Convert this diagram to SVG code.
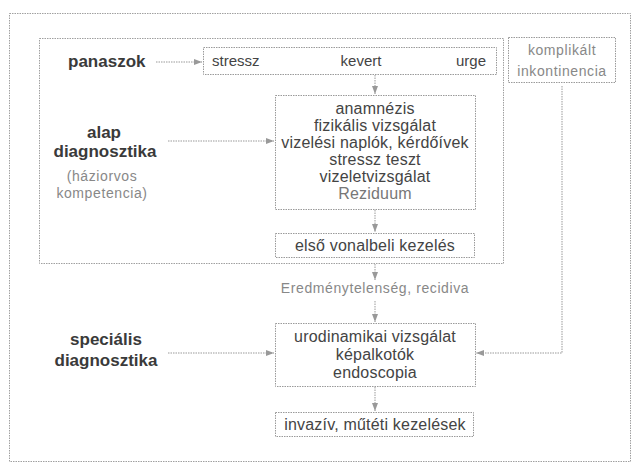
<svg xmlns="http://www.w3.org/2000/svg" width="632" height="464" viewBox="0 0 632 464">
<defs>
<style>
text{font-family:"Liberation Sans",Arial,sans-serif;fill:#444}
.b{font-weight:bold;font-size:17px;fill:#3a3a3a}
.n{font-size:16px;letter-spacing:0.2px}
.s{font-size:15px}
.l{font-size:14px;fill:#888;letter-spacing:0.6px}
.box{fill:#fff;stroke:#9a9a9a;stroke-width:1;stroke-dasharray:1.5 1}
.frame{fill:none;stroke:#a0a0a0;stroke-width:1;stroke-dasharray:1.5 1}
.c{fill:none;stroke:#999;stroke-width:1;stroke-dasharray:1.5 1}
</style>
<marker id="ah" viewBox="0 0 8 6" refX="8" refY="3" markerWidth="8" markerHeight="6" markerUnits="userSpaceOnUse" orient="auto">
<path d="M0,0 L8,3 L0,6 Z" fill="#999"/>
</marker>
</defs>
<rect width="632" height="464" fill="#fff"/>
<rect class="frame" x="9.5" y="13.5" width="621" height="448"/>
<rect id="alap-group" class="frame" x="39.5" y="38.5" width="464" height="225"/>

<g id="connectors">
<path class="c" d="M156,62 H202" marker-end="url(#ah)"/>
<path class="c" d="M375,75 V94" marker-end="url(#ah)"/>
<path class="c" d="M168,141 H274" marker-end="url(#ah)"/>
<path class="c" d="M375,210 V232" marker-end="url(#ah)"/>
<path class="c" d="M375,264 V280" marker-end="url(#ah)"/>
<path class="c" d="M375,301 V322" marker-end="url(#ah)"/>
<path class="c" d="M168,353 H274" marker-end="url(#ah)"/>
<path class="c" d="M562,86 V353 H476" marker-end="url(#ah)"/>
<path class="c" d="M375,387 V411" marker-end="url(#ah)"/>
</g>

<g id="panaszok">
<text class="b" x="68" y="67">panaszok</text>
</g>
<g id="tipusok">
<rect class="box" x="203.5" y="47.5" width="293" height="27"/>
<text class="s" x="212" y="66">stressz</text>
<text class="s" x="361" y="66" text-anchor="middle">kevert</text>
<text class="s" x="486" y="66" text-anchor="end">urge</text>
</g>
<g id="komplikalt">
<rect class="box" x="508.5" y="37.5" width="107" height="45"/>
<text class="l" x="562" y="55" text-anchor="middle">komplikált</text>
<text class="l" x="562" y="76" text-anchor="middle">inkontinencia</text>
</g>
<g id="alap">
<text class="b" x="104" y="138" text-anchor="middle">alap</text>
<text class="b" x="105" y="157" text-anchor="middle">diagnosztika</text>
<text class="l" x="102" y="181" text-anchor="middle">(háziorvos</text>
<text class="l" x="102" y="198" text-anchor="middle">kompetencia)</text>
</g>
<g id="vizsgalatok">
<rect class="box" x="275.5" y="95.5" width="200" height="114"/>
<text class="n" x="375" y="114" text-anchor="middle">anamnézis</text>
<text class="n" x="375" y="131" text-anchor="middle">fizikális vizsgálat</text>
<text class="n" x="375" y="148" text-anchor="middle">vizelési naplók, kérdőívek</text>
<text class="n" x="375" y="165" text-anchor="middle">stressz teszt</text>
<text class="n" x="375" y="182" text-anchor="middle">vizeletvizsgálat</text>
<text class="n" x="375" y="199" text-anchor="middle" style="fill:#777">Reziduum</text>
</g>
<g id="elso">
<rect class="box" x="275.5" y="233.5" width="199" height="24"/>
<text class="n" x="375" y="251" text-anchor="middle">első vonalbeli kezelés</text>
</g>
<g id="eredmenytelenseg">
<text class="l" x="375" y="293" text-anchor="middle">Eredménytelenség, recidiva</text>
</g>
<g id="specialis">
<text class="b" x="106" y="345" text-anchor="middle">speciális</text>
<text class="b" x="106" y="366" text-anchor="middle">diagnosztika</text>
</g>
<g id="urodinamika">
<rect class="box" x="275.5" y="323.5" width="200" height="63"/>
<text class="n" x="375" y="342" text-anchor="middle">urodinamikai vizsgálat</text>
<text class="n" x="375" y="360" text-anchor="middle">képalkotók</text>
<text class="n" x="375" y="378" text-anchor="middle">endoscopia</text>
</g>
<g id="invaziv">
<rect class="box" x="275.5" y="412.5" width="198" height="24"/>
<text class="n" x="375" y="430" text-anchor="middle">invazív, műtéti kezelések</text>
</g>
</svg>
